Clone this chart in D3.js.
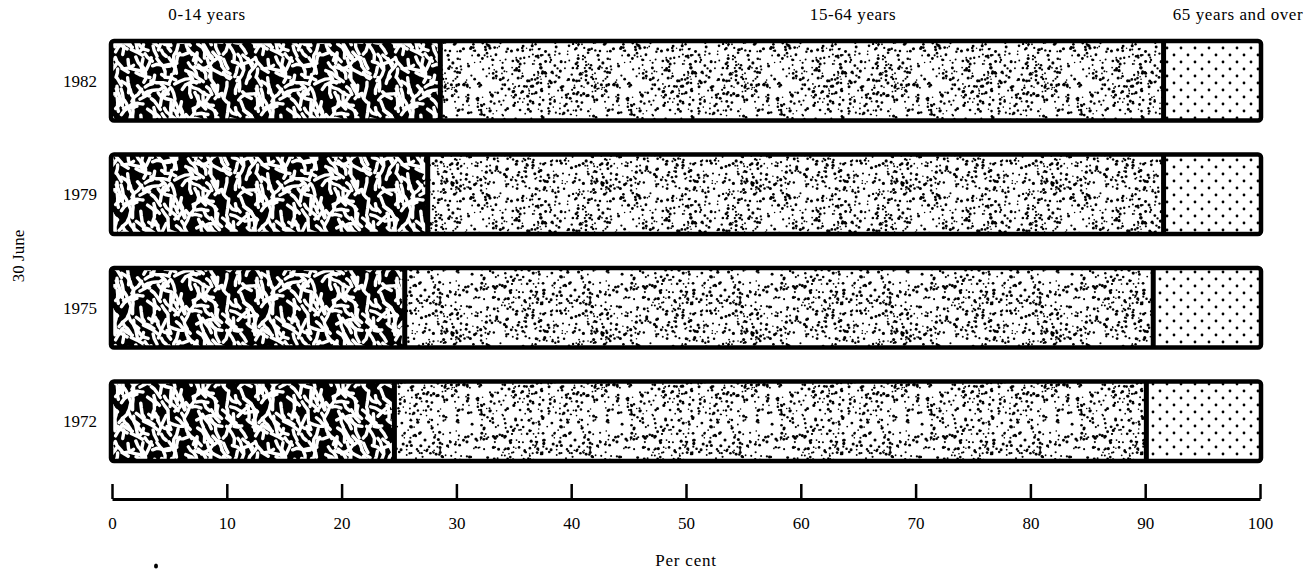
<!DOCTYPE html>
<html>
<head>
<meta charset="utf-8">
<script src="https://d3js.org/d3.v7.min.js"></script>
<style>
  body { margin: 0; background: #fff; }
  text { font-family: "Liberation Serif", "DejaVu Serif", serif; fill: #000; }
</style>
</head>
<body>
<div id="chart"></div>
<script>
// data (per cent of population, 30 June)
var years = ["1982", "1979", "1975", "1972"];
var age0to14 = [28.6, 27.5, 25.5, 24.6];
var age15to64 = [63.0, 64.1, 65.2, 65.5];
var age65plus = [8.4, 8.4, 9.3, 9.9];
var groupNames = ["0-14 years", "15-64 years", "65 years and over"];
var xTicks = [0, 10, 20, 30, 40, 50, 60, 70, 80, 90, 100];

var W = 1313, H = 571;
var svg = d3.select("#chart").append("svg").attr("width", W).attr("height", H);

var x = d3.scaleLinear().domain([0, 100]).range([112, 1260]);
var y = d3.scaleBand().domain(years).range([41, 461]).paddingInner(0.3).paddingOuter(0);

// texture for the patterns only (seeded so it's the same every time)
var seed = 11;
function rnd() { seed = (seed * 16807) % 2147483647; return (seed - 1) / 2147483646; }

var defs = svg.append("defs");

// labyrinth texture for 0-14: white worms on black
var tw = 140, th = 96;
var worm = defs.append("pattern").attr("id", "worm").attr("patternUnits", "userSpaceOnUse")
  .attr("width", tw).attr("height", th);
worm.append("rect").attr("width", tw).attr("height", th).attr("fill", "#000");
var wormPaths = [];
for (var gy = 0; gy < th; gy += 8) {
  for (var gx = 0; gx < tw; gx += 10) {
    var px = gx + rnd() * 9, py = gy + rnd() * 7;
    var ang = 1.05 + (rnd() - 0.5) * 0.9;
    if (rnd() < 0.2) ang = -0.8 + (rnd() - 0.5) * 0.8;
    var d = "M" + px.toFixed(1) + "," + py.toFixed(1);
    var n = 2 + Math.floor(rnd() * 3);
    for (var k = 0; k < n; k++) {
      ang += (rnd() - 0.5) * 1.1;
      var len = 3.5 + rnd() * 3;
      var cx = px + Math.cos(ang) * len * 0.6, cy = py + Math.sin(ang) * len * 0.6;
      px += Math.cos(ang) * len; py += Math.sin(ang) * len;
      d += " Q" + cx.toFixed(1) + "," + cy.toFixed(1) + " " + px.toFixed(1) + "," + py.toFixed(1);
    }
    wormPaths.push(d);
  }
}
[-1, 0, 1].forEach(function (ox) {
  [-1, 0, 1].forEach(function (oy) {
    worm.append("g").attr("transform", "translate(" + ox * tw + "," + oy * th + ")")
      .selectAll("path").data(wormPaths).enter().append("path")
      .attr("d", function (d) { return d; })
      .attr("fill", "none").attr("stroke", "#fff")
      .attr("stroke-width", 3.4).attr("stroke-linecap", "round");
  });
});

// fine stipple for 15-64
var sw = 150;
var stip = defs.append("pattern").attr("id", "stipple").attr("patternUnits", "userSpaceOnUse")
  .attr("width", sw).attr("height", sw);
stip.append("rect").attr("width", sw).attr("height", sw).attr("fill", "#fff");
var dots = [];
for (var i = 0; i < 900; i++) dots.push([rnd() * sw, rnd() * sw, 0.75 + rnd() * 0.85]);
[-1, 0, 1].forEach(function (ox) {
  [-1, 0, 1].forEach(function (oy) {
    stip.append("g").attr("transform", "translate(" + ox * sw + "," + oy * sw + ")")
      .selectAll("circle").data(dots).enter().append("circle")
      .attr("cx", function (d) { return d[0]; }).attr("cy", function (d) { return d[1]; })
      .attr("r", function (d) { return d[2]; }).attr("fill", "#000");
  });
});

// regular dots for 65 and over
var reg = defs.append("pattern").attr("id", "regular").attr("patternUnits", "userSpaceOnUse")
  .attr("width", 14).attr("height", 14).attr("x", 2).attr("y", 3);
reg.append("rect").attr("width", 14).attr("height", 14).attr("fill", "#fff");
reg.append("circle").attr("cx", 3).attr("cy", 3).attr("r", 1.4).attr("fill", "#000");
reg.append("circle").attr("cx", 10).attr("cy", 10).attr("r", 1.4).attr("fill", "#000");

var fills = ["url(#worm)", "url(#stipple)", "url(#regular)"];

// stacked rows
var rows = years.map(function (yr, i) {
  var vals = [age0to14[i], age15to64[i], age65plus[i]];
  var start = 0;
  var segs = vals.map(function (v, j) {
    var s = { year: yr, x0: start, x1: start + v, k: j };
    start += v;
    return s;
  });
  return { year: yr, segs: segs };
});

var g = svg.selectAll("g.row").data(rows).enter().append("g").attr("class", "row");

g.selectAll("rect.seg").data(function (d) { return d.segs; }).enter().append("rect")
  .attr("class", "seg")
  .attr("x", function (d) { return x(d.x0); })
  .attr("width", function (d) { return x(d.x1) - x(d.x0); })
  .attr("y", function (d) { return y(d.year); })
  .attr("height", y.bandwidth())
  .attr("fill", function (d) { return fills[d.k]; });

// dividers between groups
g.selectAll("line.div").data(function (d) { return d.segs.slice(0, 2); }).enter().append("line")
  .attr("x1", function (d) { return x(d.x1); }).attr("x2", function (d) { return x(d.x1); })
  .attr("y1", function (d) { return y(d.year); })
  .attr("y2", function (d) { return y(d.year) + y.bandwidth(); })
  .attr("stroke", "#000").attr("stroke-width", 5);

// outline
g.append("rect")
  .attr("x", x(0) - 1).attr("width", x(100) - x(0) + 2)
  .attr("y", function (d) { return y(d.year); })
  .attr("height", y.bandwidth())
  .attr("rx", 3)
  .attr("fill", "none").attr("stroke", "#000").attr("stroke-width", 4.5);

// year labels
g.append("text")
  .attr("x", 97)
  .attr("y", function (d) { return y(d.year) + y.bandwidth() / 2; })
  .attr("dy", "0.35em")
  .attr("text-anchor", "end")
  .style("font-size", "17px")
  .text(function (d) { return d.year; });

// group titles across the top
var titleX = [207, 853, 1238];
svg.selectAll("text.grp").data(groupNames).enter().append("text")
  .attr("class", "grp")
  .attr("x", function (d, i) { return titleX[i]; })
  .attr("y", 20)
  .attr("text-anchor", "middle")
  .style("font-size", "17px")
  .style("letter-spacing", "0.6px")
  .text(function (d) { return d; });

// y title
svg.append("text")
  .attr("transform", "translate(24,256) rotate(-90)")
  .attr("text-anchor", "middle")
  .style("font-size", "17px")
  .text("30 June");

// x axis
var axisY = 499;
var ax = svg.append("g").attr("transform", "translate(0," + axisY + ")")
  .call(d3.axisBottom(x).tickValues(xTicks).tickSize(0).tickPadding(18));
ax.select(".domain").attr("stroke", "#000").attr("stroke-width", 3);
ax.selectAll(".tick text").style("font-size", "17px")
  .style("font-family", "'Liberation Serif', serif");
ax.selectAll(".tick").append("line")
  .attr("y1", -15).attr("y2", 0)
  .attr("stroke", "#000").attr("stroke-width", 2.5);

svg.append("text")
  .attr("x", x(50))
  .attr("y", 566)
  .attr("text-anchor", "middle")
  .style("font-size", "17px")
  .style("letter-spacing", "0.8px")
  .text("Per cent");

// stray ink speck from the printed original
svg.append("ellipse").attr("cx", 156).attr("cy", 566).attr("rx", 2).attr("ry", 2.6).attr("fill", "#000");
</script>
</body>
</html>
